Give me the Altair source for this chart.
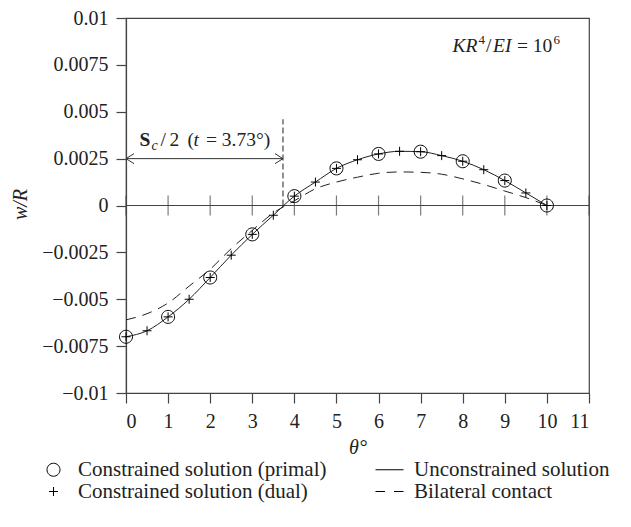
import altair as alt
import pandas as pd

# ---------------- data ----------------
theta_primal = [0, 1, 2, 3, 4, 5, 6, 7, 8, 9, 10]
w_primal = [-0.0070, -0.00594, -0.00384, -0.00154, 0.00050, 0.00198,
            0.00275, 0.00287, 0.00236, 0.00133, 0.0]

theta_half = [0, 0.5, 1, 1.5, 2, 2.5, 3, 3.5, 4, 4.5, 5, 5.5, 6, 6.5,
              7, 7.5, 8, 8.5, 9, 9.5, 10]
w_dual = [-0.0070, -0.00668, -0.00594, -0.00500, -0.00384, -0.00265,
          -0.00154, -0.00052, 0.00050, 0.00125, 0.00198, 0.00244,
          0.00275, 0.00289, 0.00287, 0.00266, 0.00236, 0.00191,
          0.00133, 0.00067, 0.0]
w_unconstrained = [-0.0070, -0.00668, -0.00594, -0.00500, -0.00384, -0.00265,
                   -0.00154, -0.00052, 0.00050, 0.00125, 0.00198, 0.00244,
                   0.00275, 0.00289, 0.00287, 0.00266, 0.00236, 0.00191,
                   0.00133, 0.00067, 0.0]
w_bilateral = [-0.0061, -0.00577, -0.0052, -0.0043, -0.0034, -0.0023,
               -0.00133, -0.0004, 0.00025, 0.00089, 0.00125, 0.00151,
               0.00172, 0.00179, 0.00177, 0.00167, 0.00142, 0.00112,
               0.00077, 0.00042, 0.0]

x_ticks = [0, 1, 2, 3, 4, 5, 6, 7, 8, 9, 10, 11]
y_ticks = [-0.01, -0.0075, -0.005, -0.0025, 0, 0.0025, 0.005, 0.0075, 0.01]

t_contact = 3.73          # S_c/2 boundary
t_contact_top = 0.0046    # top of dashed marker
arrow_level = 0.0025

series_names = ["Constrained solution (primal)", "Constrained solution (dual)",
                "Unconstrained solution", "Bilateral contact"]

FONT = "Liberation Serif"
INK = "#222222"
AX = "#444444"

# symbol paths (scaled by sqrt(size)/2)
P_CIRCLE = "M -1.3 0 A 1.3 1.3 0 1 0 1.3 0 A 1.3 1.3 0 1 0 -1.3 0 Z"
P_PLUS = "M -0.9 0 L 0.9 0 M 0 -0.9 L 0 0.9"
P_LINE = "M -2.8 0 L 2.8 0"
P_DASH = "M -2.8 0 L -0.9 0 M 0.9 0 L 2.8 0"

xs = alt.Scale(domain=[0, 11], nice=False, zero=False)
ys = alt.Scale(domain=[-0.01, 0.01], nice=False, zero=False)

x_axis = alt.Axis(values=x_ticks, format="d", title="θ°", titleY=54,
                  titleBaseline="middle", titleFontStyle="italic")
y_axis = alt.Axis(values=y_ticks, labelExpr="format(datum.value, '.4~f')",
                  title="w/R", titleX=-106, titleY=186, titleAlign="center",
                  titleBaseline="middle", titleFontStyle="italic",
                  titleAngle=-90)

X = alt.X("theta:Q", scale=xs, axis=x_axis)
Y = alt.Y("w:Q", scale=ys, axis=y_axis)

# ---------------- tables ----------------
df_primal = pd.DataFrame({"theta": theta_primal, "w": w_primal,
                          "series": series_names[0]})
df_dual = pd.DataFrame({"theta": theta_half, "w": w_dual,
                        "series": series_names[1]})
df_points = pd.concat([df_primal, df_dual])
df_unc = pd.DataFrame({"theta": theta_half, "w": w_unconstrained})
df_bil = pd.DataFrame({"theta": theta_half, "w": w_bilateral})
df_zero = pd.DataFrame({"theta": x_ticks, "w": [0] * len(x_ticks)})
df_vert = pd.DataFrame({"theta": [t_contact], "w": [0.0], "w2": [t_contact_top]})
df_arrow = pd.DataFrame({"theta": [0.0], "theta2": [t_contact], "w": [arrow_level]})
df_head_l = pd.DataFrame({"theta": [0.0], "w": [arrow_level]})
df_head_r = pd.DataFrame({"theta": [t_contact], "w": [arrow_level]})

# ---------------- layers ----------------
zero_rule = alt.Chart(df_zero).mark_rule(color=AX, strokeWidth=1.2).encode(
    y=Y, x=alt.value(0), x2=alt.value(463))
zero_ticks = alt.Chart(df_zero).mark_tick(
    orient="vertical", size=20, thickness=1.2, color=AX).encode(x=X, y=Y)

bil_line = alt.Chart(df_bil).mark_line(
    color=INK, strokeWidth=1, strokeDash=[10, 7], interpolate="monotone"
).encode(x=X, y=Y)
unc_line = alt.Chart(df_unc).mark_line(
    color=INK, strokeWidth=1, interpolate="monotone").encode(x=X, y=Y)

vert = alt.Chart(df_vert).mark_rule(color=INK, strokeWidth=1, strokeDash=[6, 3]).encode(
    x=X, y=Y, y2="w2:Q")
arrow = alt.Chart(df_arrow).mark_rule(color="#333333", strokeWidth=1).encode(
    x=X, x2="theta2:Q", y=Y)
head_l = alt.Chart(df_head_l).mark_point(
    shape="M 1.6 -1 L 0 0 L 1.6 1", size=100, filled=False, color="#333333",
    strokeWidth=1, opacity=1).encode(x=X, y=Y)
head_r = alt.Chart(df_head_r).mark_point(
    shape="M -1.6 -1 L 0 0 L -1.6 1", size=100, filled=False, color="#333333",
    strokeWidth=1, opacity=1).encode(x=X, y=Y)

points = alt.Chart(df_points).mark_point(
    size=100, filled=False, color="black", strokeWidth=1, opacity=1
).encode(
    x=X, y=Y,
    shape=alt.Shape("series:N",
                    scale=alt.Scale(domain=series_names,
                                    range=[P_CIRCLE, P_PLUS, P_LINE, P_DASH]),
                    legend=alt.Legend(
                        title=None, orient="none", legendX=-83, legendY=441,
                        columns=2, columnPadding=46, rowPadding=0,
                        labelOffset=14, labelFont=FONT, labelFontSize=21,
                        labelColor=INK, labelLimit=400, symbolSize=100,
                        symbolStrokeWidth=1, symbolStrokeColor="black",
                        symbolFillColor="transparent", padding=0)),
)


def piece(txt, theta, w, dx, dy=0, size=19.5, style="normal", weight="normal"):
    d = pd.DataFrame({"theta": [theta], "w": [w], "label": [txt]})
    return alt.Chart(d).mark_text(
        align="left", baseline="alphabetic", dx=dx, dy=dy, font=FONT,
        fontSize=size, fontStyle=style, fontWeight=weight, color=INK
    ).encode(x=X, y=Y, text="label:N")


ann_w = 0.0032
ann = [
    piece("S", 0, ann_w, 13.5, weight="bold"),
    piece("c", 0, ann_w, 25.5, dy=4, size=14, style="italic"),
    piece("/", 0, ann_w, 34.5),
    piece("2", 0, ann_w, 43.5),
    piece("(", 0, ann_w, 61.5),
    piece("t", 0, ann_w, 67.5, style="italic"),
    piece("= 3.73°)", 0, ann_w, 80),
]

k_w = 0.0082
kr = [
    piece("KR", 11, k_w, -136.5, style="italic"),
    piece("4", 11, k_w, -110.5, dy=-8, size=13),
    piece("/", 11, k_w, -103),
    piece("EI", 11, k_w, -96, style="italic"),
    piece("= 10", 11, k_w, -72),
    piece("6", 11, k_w, -35.5, dy=-8, size=13),
]

chart = alt.layer(
    zero_rule, zero_ticks, bil_line, unc_line, vert, arrow, head_l, head_r,
    points, *ann, *kr
).properties(
    width=463, height=375,
    padding={"left": 118, "top": 10, "right": 34, "bottom": 118},
    autosize=alt.AutoSizeParams(type="none"),
).configure_view(
    stroke=AX, strokeWidth=1.2
).configure_axis(
    grid=False, tickSize=10, tickColor=AX, domainColor=AX, domainWidth=1.2,
    tickWidth=1.2, labelFont=FONT, labelFontSize=20, labelColor=INK,
    labelPadding=8, titleFont=FONT, titleFontSize=20, titleColor=INK,
    titleFontWeight="normal"
)

chart.save("out.html", embed_options={"renderer": "svg", "actions": False})
